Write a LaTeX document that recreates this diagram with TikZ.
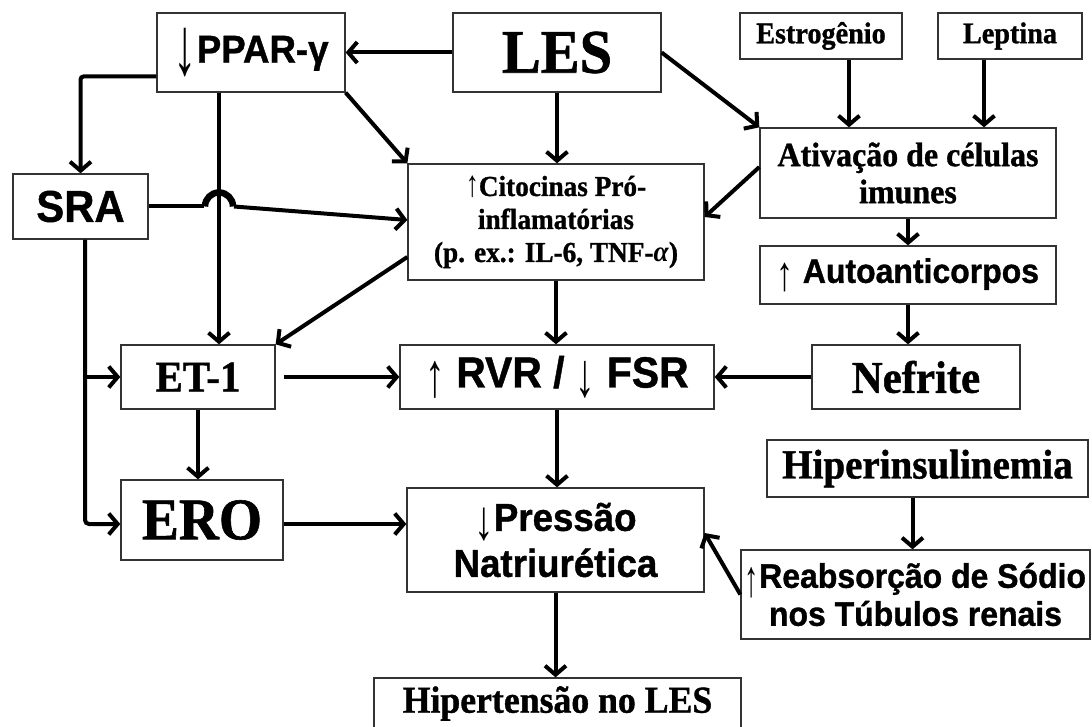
\documentclass[tikz,border=0pt]{standalone}
\usepackage{graphicx}
\usepackage{fontspec}
\setmainfont{Liberation Serif}[FakeStretch=0.94, BoldFeatures={FakeBold=1}]
\newfontfamily\arialf{Liberation Sans}[FakeStretch=0.94, BoldFeatures={FakeBold=1}]
\usetikzlibrary{arrows.meta}
\newcommand\tar[4]{\raisebox{-#3em}{\resizebox*{#4em}{#2em}{\mdseries #1}}}
\begin{document}
\begin{tikzpicture}[x=1pt,y=-1pt,
  box/.style={draw=black!80, line width=1.3pt, rectangle, inner sep=0pt, align=center, fill=white},
  arr/.style={line width=4pt, -{Straight Barb[length=9pt,width=21pt]}},
  ]
\fill[white] (0,0) rectangle (1092,727);
\useasboundingbox (0,0) rectangle (1092,727);

\node[box, minimum width=188, minimum height=79, font=\arialf\bfseries\fontsize{39}{42}\selectfont] (ppar) at (251,52.5) {\tar{↓}{1.25}{0.3}{0.6}PPAR-γ};
\node[box, minimum width=208, minimum height=79, font=\bfseries\fontsize{62}{64}\selectfont] (les) at (557,52.5) {LES};
\node[box, minimum width=162, minimum height=46, font=\bfseries\fontsize{30}{32}\selectfont] (estr) at (821,36) {Estrogênio};
\node[box, minimum width=144, minimum height=46, font=\bfseries\fontsize{30}{32}\selectfont] (lept) at (1010,36) {Leptina};
\node[box, minimum width=296, minimum height=90, font=\bfseries\fontsize{34}{37}\selectfont] (ativ) at (908,173) {Ativação de células\\imunes};
\node[box, minimum width=296, minimum height=116, font=\bfseries\fontsize{29}{33}\selectfont] (cito) at (556,222) {\tar{↑}{0.75}{0.02}{0.45}Citocinas Pró-\\inflamatórias\\(p. ex.: IL-6, TNF-\textit{α})};
\node[box, minimum width=135, minimum height=65, font=\arialf\bfseries\fontsize{44.5}{46}\selectfont] (sra) at (80.5,206.5) {SRA};
\node[box, minimum width=296, minimum height=58, font=\arialf\bfseries\fontsize{34}{36}\selectfont] (auto) at (908,275) {\tar{↑}{0.85}{0.22}{0.5} Autoanticorpos};
\node[box, minimum width=154, minimum height=64, font=\bfseries\fontsize{43.5}{46}\selectfont] (et1) at (198,377) {ET-1};
\node[box, minimum width=314, minimum height=64, font=\arialf\bfseries\fontsize{43.5}{46}\selectfont] (rvr) at (557,377) {\tar{↑}{0.85}{0.2}{0.45} RVR / \tar{↓}{0.85}{0.2}{0.45} FSR};
\node[box, minimum width=208, minimum height=64, font=\bfseries\fontsize{45.5}{48}\selectfont] (nef) at (916,377) {Nefrite};
\node[box, minimum width=321, minimum height=57, font=\bfseries\fontsize{41.5}{44}\selectfont] (hiper) at (927.5,468.5) {Hiperinsulinemia};
\node[box, minimum width=162, minimum height=80, font=\bfseries\fontsize{59}{61}\selectfont] (ero) at (202,520) {ERO};
\node[box, minimum width=297, minimum height=104, font=\arialf\bfseries\fontsize{39}{46}\selectfont] (press) at (555.5,540) {\tar{↓}{0.85}{0.22}{0.5}Pressão\\Natriurética};
\node[box, minimum width=349, minimum height=89, font=\arialf\bfseries\fontsize{34}{38}\selectfont] (reab) at (915.5,594.5) {\tar{↑}{0.9}{0.25}{0.42}Reabsorção de Sódio\\nos Túbulos renais};
\node[box, minimum width=367, minimum height=51, font=\bfseries\fontsize{38}{40}\selectfont] (hip) at (557.5,703.5) {Hipertensão no LES};

\draw[arr] (les.west) -- (ppar.east);
\draw[arr] (les.south) -- (les.south |- cito.north);
\draw[arr] (les.east) -- (ativ.north west);
\draw[arr] ([xshift=28pt]estr.south) -- ([xshift=28pt]estr.south |- ativ.north);
\draw[arr] ([xshift=-26pt]lept.south) -- ([xshift=-26pt]lept.south |- ativ.north);
\draw[arr] ([yshift=6pt]ativ.west) -- ([yshift=5pt]cito.east);
\draw[arr] (ativ.south) -- (auto.north);
\draw[arr] (auto.south) -- (auto.south |- nef.north);
\draw[arr] (nef.west) -- (rvr.east);
\draw[arr, rounded corners=3pt] ([yshift=-24pt]ppar.west) -| (sra.north);
\coordinate (pv) at ([xshift=-32pt]ppar.south);
\draw[arr] (pv) -- (pv |- et1.north);
\draw[arr] (ppar.south east) -- (cito.north west);
\coordinate (jx) at (pv |- sra.east);
\draw[line width=4pt] (sra.east) -- ([xshift=-15pt]jx);
\draw[line width=6.5pt] ([xshift=-14pt]jx) arc[start angle=180, end angle=0, radius=14pt];
\draw[arr] ([xshift=15pt]jx) -- ([yshift=2pt]cito.west);
\draw[arr] ([yshift=-35pt]cito.west) -- (et1.north east);
\draw[arr] (cito.south) -- (cito.south |- rvr.north);
\coordinate (sv) at ([xshift=4.5pt]sra.south);
\draw[arr] (sv) |- (et1.west);
\draw[arr, rounded corners=4pt] (sv) |- ([yshift=-4pt]ero.west);
\draw[arr, shorten <=8pt] (et1.east) -- (rvr.west);
\draw[arr] (et1.south) -- (et1.south |- ero.north);
\draw[arr] (rvr.south) -- (rvr.south |- press.north);
\draw[arr] ([yshift=-4pt]ero.east) -- ([yshift=-4pt]ero.east -| press.west);
\draw[arr] (reab.west) -- ([yshift=7pt]press.east);
\draw[arr] ([xshift=-15pt]hiper.south) -- ([xshift=-15pt]hiper.south |- reab.north);
\draw[arr] (press.south) -- (press.south |- hip.north);
\end{tikzpicture}
\end{document}
